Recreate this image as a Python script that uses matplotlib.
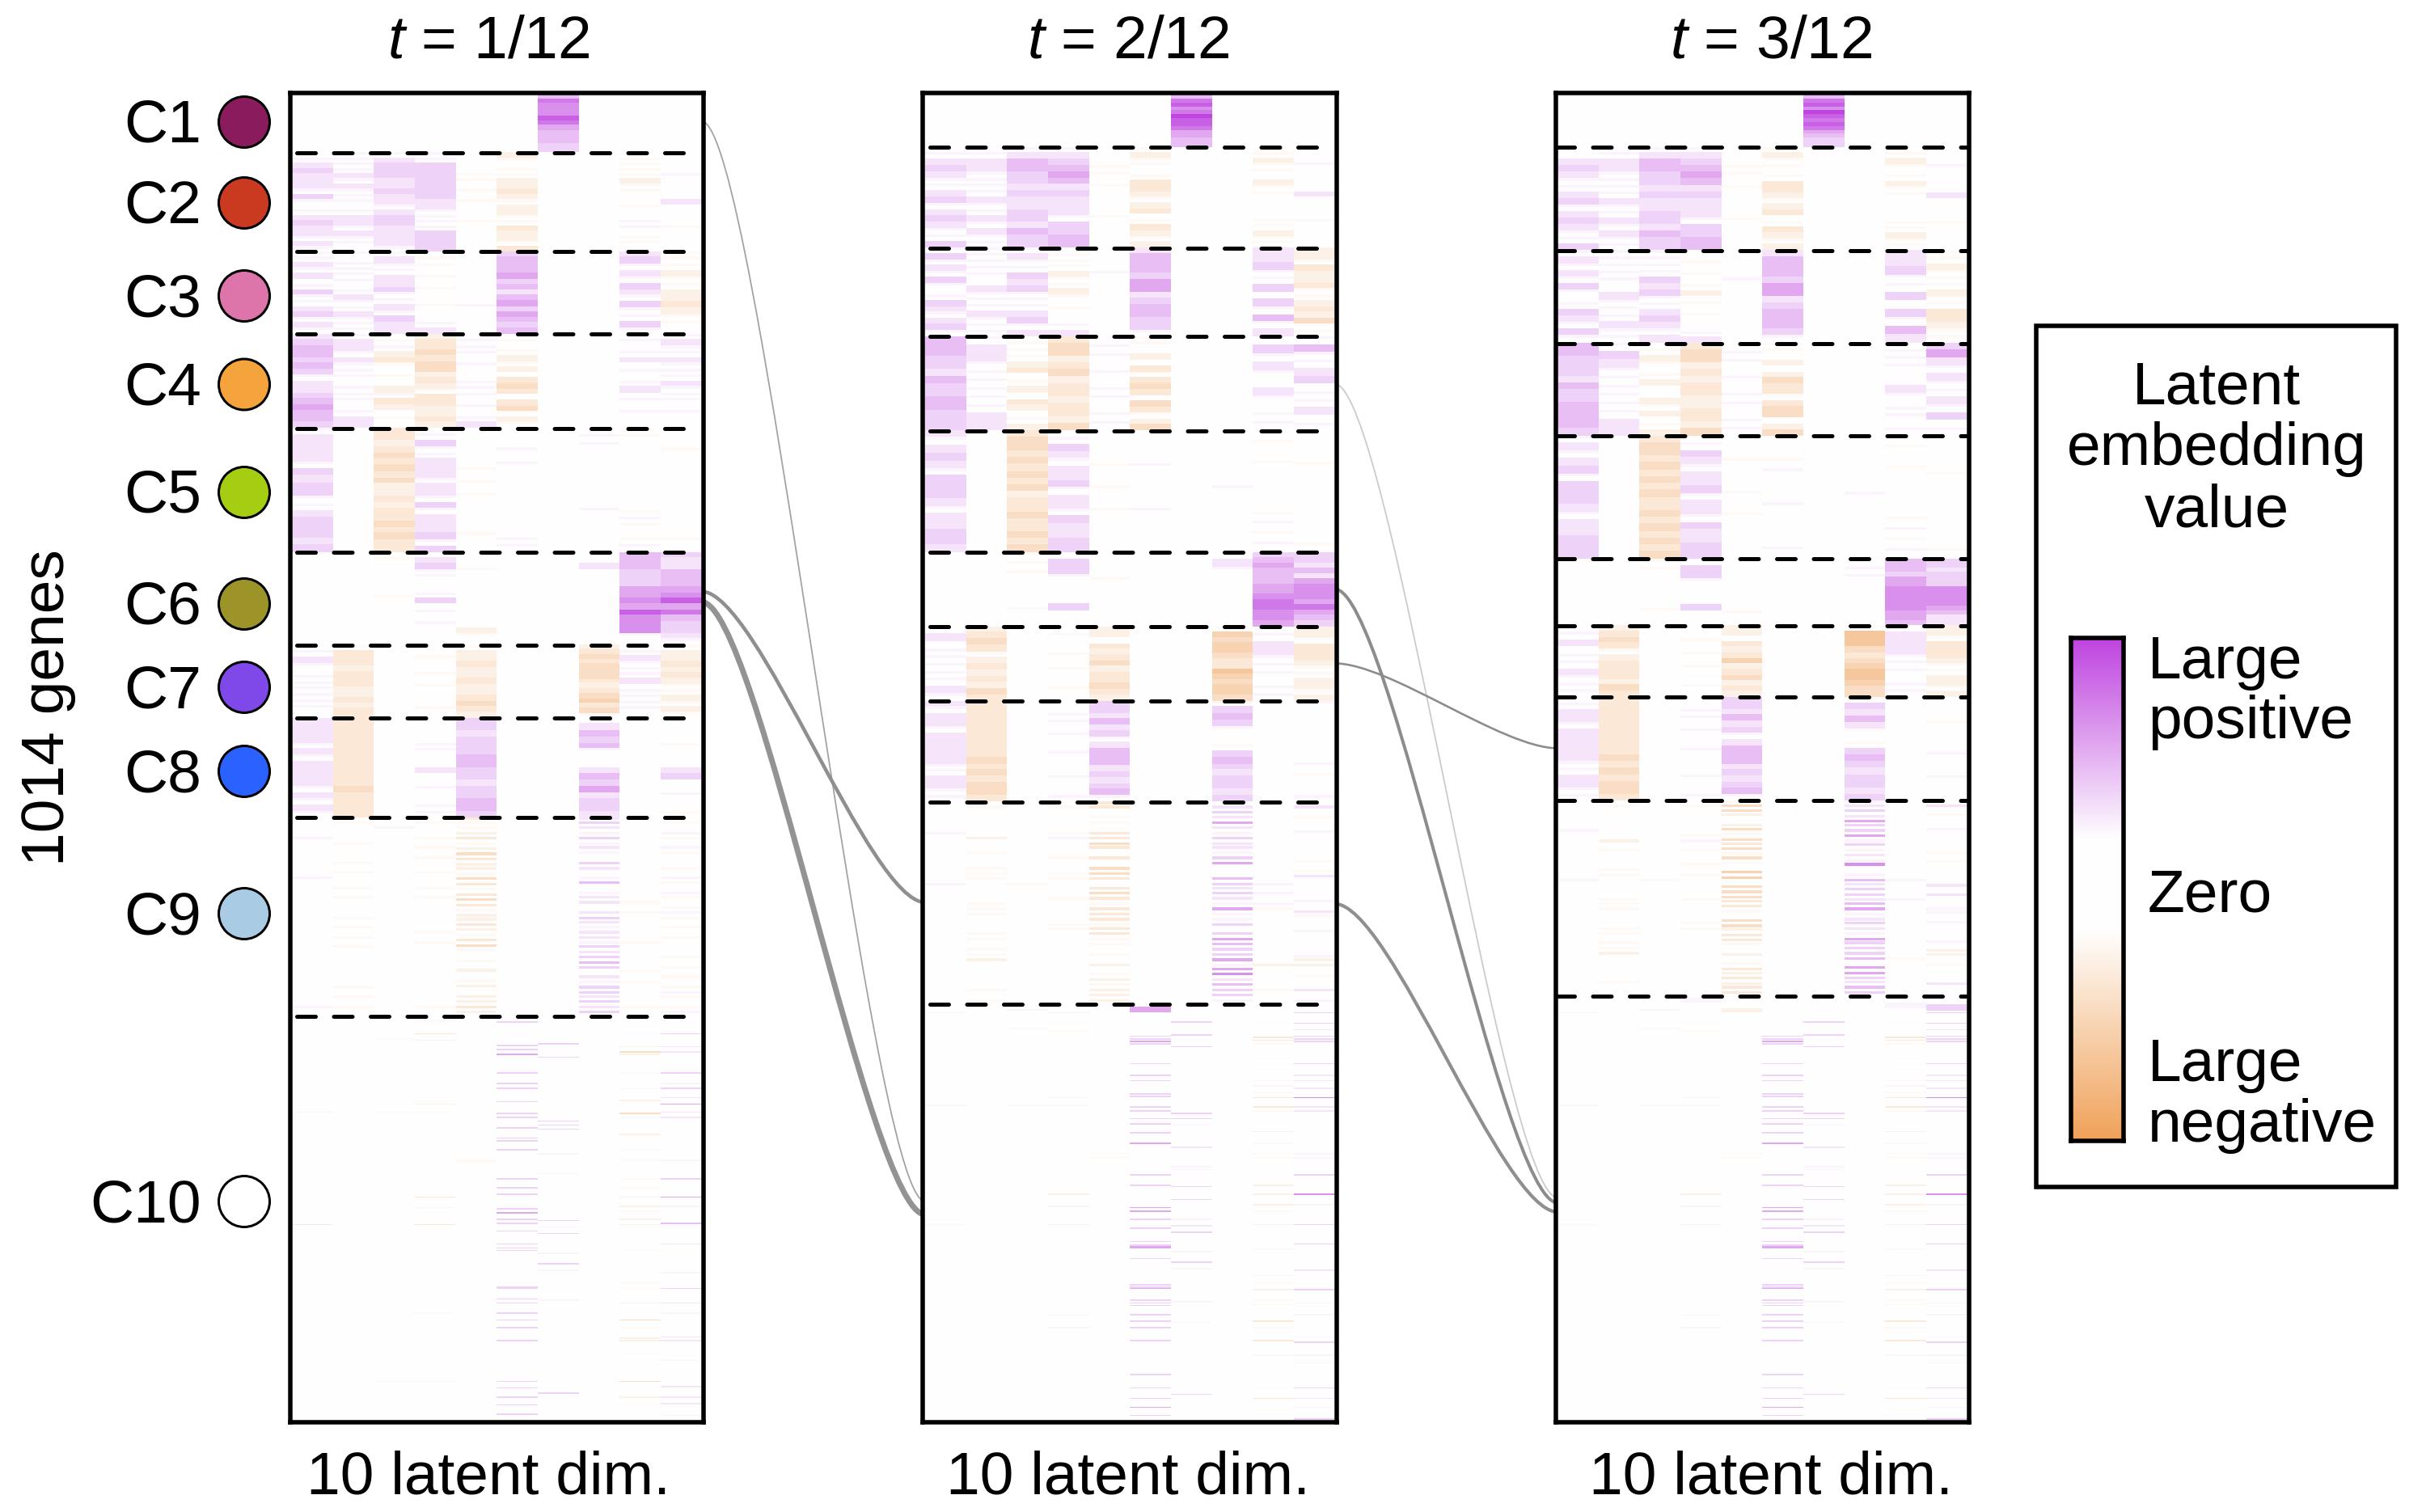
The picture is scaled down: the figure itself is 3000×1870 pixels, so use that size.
import numpy as np
import matplotlib
matplotlib.use("Agg")
import matplotlib.pyplot as plt
from matplotlib.colors import LinearSegmentedColormap
from matplotlib.patches import Circle, PathPatch, Rectangle
from matplotlib.path import Path

plt.rcParams["font.family"] = ["Liberation Sans", "DejaVu Sans"]
plt.rcParams["mathtext.fontset"] = "custom"
plt.rcParams["mathtext.rm"] = "Liberation Sans"
plt.rcParams["mathtext.it"] = "Liberation Sans:italic"

# ---------- data ----------
N_GENES = 1014
PANEL_TITLES = ["$t$ = 1/12", "$t$ = 2/12", "$t$ = 3/12"]
X_LABEL = "10 latent dim."
Y_LABEL = "1014 genes"
CLUSTERS = ["C1", "C2", "C3", "C4", "C5", "C6", "C7", "C8", "C9", "C10"]
CLUSTER_COLORS = ["#8A1C5E", "#C93A20", "#DD75AB", "#F5A33C", "#A5CE12",
                  "#9D9429", "#7F48E8", "#2B62FF", "#AACBE4", "#FFFFFF"]

# last gene row of each cluster (C1..C9), per panel
P1_BOUNDS = [44, 120, 183, 255, 350, 421, 477, 553, 705]
P2_BOUNDS = [40, 117, 185, 257, 350, 407, 464, 541, 696]
P3_BOUNDS = [40, 119, 190, 261, 355, 406, 461, 540, 690]

# Each block: stripes read top to bottom; digit = positive level, letter a-i = negative level.
Z = "0"
P1_C1 = [Z, Z, Z, Z, Z, Z, "4766687544433", Z, Z, Z]
P1_C2 = ["0123222131012322121", "1111212111012212110", "1233322322123322221", "1133333332211113333",
         "0000aa0a0a000a00000", "ba0aabbcbabbaacbbac", Z, Z, "0aaaabaa00a00110aa0", "00001000020000a0000"]
P1_C3 = ["112120131123121", "101111012112111", "12112231121322", "0aa0a0a00a0012", "00000001000",
         "344453424535434", Z, Z, "2312132131131", "aaabaabbcbaa0"]
P1_C4 = ["2344343122345443", "1221211101110122", "0a1bca0a0b1cb0a0", "bccdcddbcbaccbbcb", "0111010011101012",
         "0a0abab0cdc0cdaba", Z, Z, "0101201012010100", "1211211121110100"]
P1_C5 = ["122221323311233323", Z, "ccbcdcdcdbbcbccdcdcc", "01311222122131222313", "000000a0a0a00000a00",
         "000101000000000011", Z, "01100000000100000", "0a0000000000a1a0a1", "000a000000000000a0"]
P1_C6 = [Z, Z, "0a000000a00000000", "0231100130101000", "000a0000000000ba0", Z, Z,
         "0020000000000000", "4443335565866610", "3224445685743321"]
P1_C7 = ["012101111110", "acccbcccbbcbcc", Z, "00a00a0a000a0", "abbcbbcbbcdcb", Z, Z,
         "bcdcdddcbcdecda", "0121112011110", "abbcbcbaababa"]
P1_C8 = ["2222121222212121", "cccccccccccdcccc", Z, "0000110020010011", "3323334433233443", Z, Z,
         "0243410024352332", Z, "0000a0002300100a"]
P1_C9 = ["0000100000001000000000000000000000000010", "0a000a000a0a00a0a000a0a0a0a0000000a0a0a0",
         "0010000000000000000000000000000000000000", "0a00a0a0a00a00a0a000000a0a000000000000a0",
         "caabcabdcbbadcacdcabbcbacda0a0b0ab0bbcb", Z, Z,
         "2321312103201401220232122132343021332323", "00000000000000000a0a00000a00000a0a0000a0",
         "0a01a01a00a01a01a0a1a0a0a000a0a0a0a1a0a1"]
P1_C10 = [(0, 1, [73]), (0, 2, [159]), (2, -1, [17, 73]), (2, 1, [279]),
          (3, -3, [13, 138, 159]), (3, -2, [18, 67]), (3, -1, [3, 73, 227]), (3, 1, [146, 279]),
          (4, -1, [110, 111]),
          (5, 3, [4, 22, 25, 43, 51, 55, 65, 74, 77, 85, 93, 95, 102, 124, 131, 136, 147, 155, 158, 164, 174, 177,
                  179, 207, 208, 216, 219, 227, 232, 238, 248, 279, 284, 291, 297, 304]),
          (5, 5, [29, 150]),
          (6, 3, [21, 31, 80, 83, 86, 156, 166, 189, 288]), (6, 1, [105, 120, 161, 181, 194, 217]),
          (8, -1, [13, 43, 55, 67, 77, 102, 110, 124, 131, 149, 179, 204, 208, 238, 258, 297]),
          (8, -2, [23, 29, 64, 90, 138, 145, 155, 159, 219, 246, 248, 291]), (8, -4, [27, 74, 232, 279]),
          (9, 3, [13, 43, 55, 124, 208]), (9, 2, [23, 27, 62, 73, 77, 174, 219, 245, 248, 283, 291, 296]),
          (9, 1, [51, 110, 145, 196, 227, 263, 305]), (9, 5, [67, 138]), (9, 4, [158])]

P2_C1 = [Z, Z, Z, Z, Z, Z, "4786798875544", Z, Z, Z]
P2_C2 = ["0123211231232113", "0122111121121211", "1244332322332433", "1234542322213344", "000aa0a0000a0000",
         "abaa0accbabc0acbab", Z, Z, "0abaa0baa0000aabaa", "0001000020000a0000"]
P2_C3 = ["131213101321231", "11111021112111", "12113231112312", "0aaabaaba0a0012", "00010000000",
         "24443552344331", Z, Z, "223113031412", "bbacbbcaabcbdaa"]
P2_C4 = ["44433243344333", "12211111122", "0aaabc0ab0cb0ab", "cddbcdbccbccbd", "01101011011",
         "aa0b0cacdc0dcabd", Z, Z, "03121021011", "141123011201"]
P2_C5 = ["2123213332122332", Z, "cddcdcdcdbccdccdcd", "01321223122132233", "000a0a0a000",
         "00010001000", Z, "0000001000000", "0a0a0000a1a1", "0000a000000000a"]
P2_C6 = [Z, Z, "aaa000a0", "0331000300", "00a000", Z, Z, "0210000000", "34544455677665", "33242566657543"]
P2_C7 = ["0201111121", "bcdcabcbcbdc", Z, "0a00a0a00a0", "bb0cbcdbccdcb", Z, Z,
         "aedeedccfedeed", "0122111011", "bbacccbaabbab"]
P2_C8 = ["2122122222112211", "cccccccccdcdcddc", Z, "0011010010001001", "33242312444232341", Z, Z,
         "1343100a34323323", Z, "1000000000010a0001"]
P2_C9 = ["0000001000000000100000000000000000000000", "0a00000b00a00aaa0000aaa000aa0aab00000a0a",
         "0000000000000000a00000000000000000000000", "0a0000a1000a00aa000a0000aa00000000000000",
         "cc0aa0ccdc0c0ddc0cdcacccaccaa0a0b0ababbb", Z, Z,
         "0232521322135004323215113035433515624331", "000000000000000010101a0000000000b0000a00",
         "020a00100000a0a20000102a00100001bb0a00201"]
# C10 stripes of panels 2 and 3 sit on the same rows (offsets from panel 2's C9 boundary)
P23_C10 = [(0, 1, [6, 77, 168]), (2, -1, [18, 77]), (2, 1, [4]),
           (3, -1, [14, 20, 77, 237]), (3, 1, [71, 154, 247]), (3, -2, [145, 168]),
           (4, -1, [114, 117]),
           (5, 3, [24, 26, 30, 45, 54, 58, 68, 70, 78, 81, 87, 91, 98, 130, 138, 164, 171, 181, 184, 194, 214, 216,
                   226, 228, 230, 237, 242, 247, 257, 283, 293, 301, 314]),
           (5, 5, [28, 106, 155, 158, 185, 186, 217, 308]),
           (6, 3, [13, 23, 32, 83, 87, 139, 149, 174, 197, 298]), (6, 1, [92, 124, 126, 164, 189, 202, 227, 243]),
           (6, 2, [109, 169]),
           (8, -1, [14, 30, 45, 58, 67, 81, 106, 114, 117, 158, 187, 213, 226, 229, 247, 268, 293, 314]),
           (8, -2, [97, 138, 145, 153, 168, 218]), (8, -3, [25, 27, 71, 78, 242, 257, 301]), (8, 1, [62, 207]),
           (9, 3, [6, 14, 24, 26, 28, 45, 130, 168, 183, 218, 258, 293, 317]),
           (9, 2, [19, 54, 58, 64, 78, 81, 203, 301]),
           (9, 1, [114, 117, 153, 228, 237, 254, 268, 274, 308]), (9, 6, [71, 145])]
P2_C10_EXTRA = [(3, -2, [6]), (5, 5, [2, 3, 4, 5])]

P3_C1 = [Z, Z, Z, Z, Z, Z, "4786987875433", Z, Z, Z]
P3_C2 = ["0023211231232113", "0122111121121211", "1244332322332433", "1234542322213344", "000aa0a0000a0000",
         "abaa0accbabc0acbab", Z, Z, "0aba0abaa0000aabaa", "0001000020000a0000"]
P3_C3 = ["12121310132131", "1111102111211", "11113231123212", "00a0a0ab0a0a0012", "0001000000",
         "24443552344431", Z, Z, "22311303142", "aabaaabaaccbaa"]
P3_C4 = ["44333243344443", "13211111122", "0aba0ab00bab0ab", "cddbcbccbbccbd", "01101011011",
         "aa0b0bdccacdd0bd", Z, Z, "0111002101101", "352121121301"]
P3_C5 = ["1212313332122333", Z, "cddcdcdcdccdcdcdcd", "01321223122132233", "00a00a0a000",
         "00a10010001", Z, "0000001000000", "0a0a0000a1a1", "0000a0000000a"]
P3_C6 = [Z, Z, "aa0000a0", "0331000300", "0000a", Z, Z, "01100000", "44435566666554", "33233366665422"]
P3_C7 = ["0120112111", "bcdcabcccbdc", Z, "00a0a0a00a0", "bb0cbcebcdbcb", Z, Z,
         "afffdcdeffedd", "0222111011", "bbacccbaabbab"]
P3_C8 = ["0122122222112211", "cccccccccdcdcddc", Z, "0011010010001001", "33242312444232341", Z, Z,
         "a3242a0a34323323", Z, "000a000100100"]
P3_C9 = ["0000001000000000100000000000000000000000", "0a000000b0a000aa0000aaa000aa0aab00000a00",
         "0000000000000000a00000000000000000000000", "0a00000a10a00a0a0000a0000aa0000000000000",
         "addb0bdadcdada0ee0dddcca0ddbcca0b0acbcbcc", Z, Z,
         "1232533513121601423324512321533340553243", "00000000000000001000100000000000a0000000",
         "020a0010000a0a000020200110100010bb0a000200"]
P3_C10_EXTRA = [(3, 1, [-5, -4, -3, -2]), (4, -2, [3, 4, 5]), (8, 1, [-1, 0, 1, 2]), (9, 3, [0, 1, 2, 3, 4])]

PANELS = [
    ([P1_C1, P1_C2, P1_C3, P1_C4, P1_C5, P1_C6, P1_C7, P1_C8, P1_C9], P1_BOUNDS, P1_C10),
    ([P2_C1, P2_C2, P2_C3, P2_C4, P2_C5, P2_C6, P2_C7, P2_C8, P2_C9], P2_BOUNDS, P23_C10 + P2_C10_EXTRA),
    ([P3_C1, P3_C2, P3_C3, P3_C4, P3_C5, P3_C6, P3_C7, P3_C8, P3_C9], P3_BOUNDS, P23_C10 + P3_C10_EXTRA),
]

# flows between panels: (left panel, source gene row, target gene row, width px, grey, alpha)
FLOWS = [(0, 20, 847, 1.8, "#8c8c8c", 0.8), (0, 380, 618, 4.5, "#8f8f8f", 1.0), (0, 388, 857, 7.0, "#939393", 1.0),
         (1, 221, 844, 1.8, "#8c8c8c", 0.45), (1, 378, 848, 4.0, "#8c8c8c", 1.0), (1, 435, 500, 2.6, "#8c8c8c", 1.0),
         (1, 619, 855, 4.2, "#8f8f8f", 1.0)]

CBAR_FRACTION = [0.0, 0.40, 0.58, 1.0]
CBAR_LEVEL = [9, 0, 0, -9]

# ---------- layout (pixels of the 3000x1870 canvas) ----------
PX = 72 / 200
FS = 27
fig = plt.figure(figsize=(15, 9.35), dpi=200, facecolor="white")
canvas = fig.add_axes([0, 0, 1, 1], zorder=0)
canvas.set_xlim(0, 3000)
canvas.set_ylim(1870, 0)
canvas.axis("off")

PANEL_LEFT = [358.6, 1141.4, 1923.5]
PANEL_W, PANEL_TOP, PANEL_BOTTOM = 511.8, 114.5, 1759
TITLE_X = [604, 1395, 2190]
cmap = LinearSegmentedColormap.from_list("latent", ["#F0A25A", "#FFFFFF", "#BF45E0"])


def levels(text):
    return [int(c) if c.isdigit() else -(ord(c) - 96) for c in text]


def shown(level):
    # stripes are 1-2 genes wide in the source, so a band's colour reads paler than its peak
    return np.sign(level) * 9 * (abs(level) / 9) ** 1.3


axes = []
for i, (blocks, bounds, sparse) in enumerate(PANELS):
    heat = np.zeros((N_GENES, 10))
    starts = [0] + bounds[:-1]
    for start, end, block in zip(starts, bounds, blocks):
        for dim, text in enumerate(block):
            vals = levels(text)
            per_band = (end - start) / len(vals)
            for k, v in enumerate(vals):
                top = start + int(k * per_band)
                bottom = start + int((k + 1) * per_band)
                # faint bands and the long C9 bands are thin lines in the source
                if per_band >= 3 and (abs(v) == 1 or len(vals) >= 39):
                    bottom = min(bottom, top + 2)
                heat[top:bottom, dim] = shown(v)
    for dim, level, offsets in sparse:
        base = P2_BOUNDS[-1] if sparse is not P1_C10 else P1_BOUNDS[-1]
        for off in offsets:
            heat[base + off, dim] = shown(level)
    ax = fig.add_axes([PANEL_LEFT[i] / 3000, 1 - PANEL_BOTTOM / 1870, PANEL_W / 3000,
                       (PANEL_BOTTOM - PANEL_TOP) / 1870], zorder=1)
    ax.imshow(heat, cmap=cmap, vmin=-9, vmax=9, aspect="auto", interpolation="nearest",
              extent=(0, 10, N_GENES, 0))
    ax.set_xlim(-0.057, 10.057)
    ax.set_ylim(N_GENES + 1.9, -1.9)
    ax.set_xticks([])
    ax.set_yticks([])
    for sp in ax.spines.values():
        sp.set_linewidth(5.5 * PX)
    x0, x1 = (0.11, 9.67) if i < 2 else (-0.057, 10.057)
    for b in bounds:
        ax.plot([x0, x1], [b, b], color="black", lw=5 * PX, linestyle=(0, (4.6, 4.5)),
                dash_capstyle="round", zorder=3)
    axes.append(ax)
    canvas.text(TITLE_X[i], 72, PANEL_TITLES[i], fontsize=FS, ha="center", va="baseline")
    canvas.text(TITLE_X[i], 1848, X_LABEL, fontsize=FS, ha="center", va="baseline")

# circles and cluster names
CIRCLE_Y = [151, 251, 366, 475.5, 609, 747, 850, 954, 1130, 1486]
for name, col, y in zip(CLUSTERS, CLUSTER_COLORS, CIRCLE_Y):
    canvas.add_patch(Circle((302, y), 31.5, facecolor=col, edgecolor="black", lw=3 * PX))
    canvas.text(249, y - 2, name, fontsize=FS, ha="right", va="center_baseline")
canvas.text(60, 875, Y_LABEL, fontsize=FS, rotation=90, ha="center", va="center")

# flows
for left, src, dst, w, col, alpha in FLOWS:
    (xa, ya) = canvas.transData.inverted().transform(axes[left].transData.transform((10, src)))
    (xb, yb) = canvas.transData.inverted().transform(axes[left + 1].transData.transform((0, dst)))
    dx = xb - xa
    path = Path([(xa, ya), (xa + 0.25 * dx, ya), (xb - 0.25 * dx, yb), (xb, yb)],
                [Path.MOVETO, Path.CURVE4, Path.CURVE4, Path.CURVE4])
    canvas.add_patch(PathPatch(path, facecolor="none", edgecolor=col, lw=w * PX, alpha=alpha))

# legend
canvas.add_patch(Rectangle((2518, 403), 445, 1065, facecolor="white", edgecolor="black", lw=5.5 * PX))
for txt, y in zip(["Latent", "embedding", "value"], [499, 575, 651]):
    canvas.text(2741, y, txt, fontsize=FS, ha="center", va="baseline")
for txt, y in zip(["Large", "positive", "Zero", "Large", "negative"], [839, 913, 1127, 1337, 1412]):
    canvas.text(2656, y, txt, fontsize=FS, ha="left", va="baseline")
cax = fig.add_axes([2561 / 3000, 1 - 1411 / 1870, 65 / 3000, 622 / 1870], zorder=2)
grad = np.interp(np.linspace(0, 1, 256), CBAR_FRACTION, CBAR_LEVEL)[:, None]
cax.imshow(grad, cmap=cmap, vmin=-9, vmax=9, aspect="auto")
cax.set_xticks([])
cax.set_yticks([])
for sp in cax.spines.values():
    sp.set_linewidth(5.5 * PX)

fig.savefig("out.png", dpi=200, facecolor="white")
